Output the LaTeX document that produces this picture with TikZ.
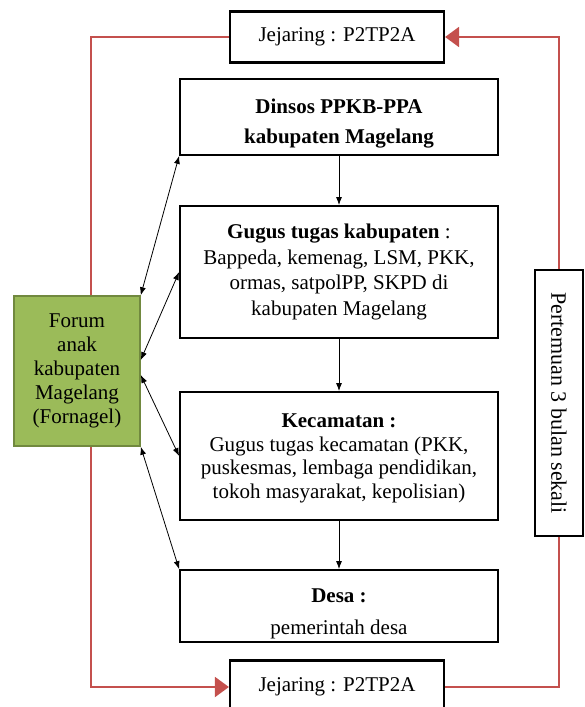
\documentclass[tikz,border=0pt]{standalone}
\usepackage{fontspec}
\setmainfont{Liberation Serif}
\usetikzlibrary{arrows.meta}
\definecolor{redc}{HTML}{C4504D}
\definecolor{greenfill}{HTML}{9BBB59}
\definecolor{greenline}{HTML}{71893F}
\tikzset{
  box/.style={draw=black, line width=1.8pt, fill=white, align=center, inner sep=2pt,
    font=\fontsize{21}{24}\selectfont},
  redline/.style={draw=redc, line width=2pt},
  redarr/.style={redline, -{Triangle[length=14pt,width=20pt]}},
  arr/.style={-{Latex[length=8pt,width=6pt]}, line width=0.8pt},
  darr/.style={{Latex[length=8pt,width=6pt]}-{Latex[length=8pt,width=6pt]}, line width=0.8pt},
}
\begin{document}
\begin{tikzpicture}[x=1pt,y=-1pt]
\clip (0,0) rectangle (585,707);
\fill[white] (0,0) rectangle (585,707);

\node[box, line width=2.2pt, minimum width=214pt, minimum height=51pt] (tj) at (337,37) {Jejaring : P2TP2A};
\node[box, line width=2.2pt, minimum width=214pt, minimum height=53pt] (bj) at (337,687) {Jejaring : P2TP2A};

\node[box, minimum width=318pt, minimum height=76pt, font=\fontsize{21}{30}\selectfont] (dinsos) at (339,117)
  {\rule{0pt}{27pt}\textbf{Dinsos PPKB-PPA}\\\textbf{kabupaten Magelang}};
\node[box, minimum width=318pt, minimum height=132pt, font=\fontsize{21}{25.5}\selectfont] (gugus) at (339,272)
  {\textbf{Gugus tugas kabupaten} :\\Bappeda, kemenag, LSM, PKK,\\ormas, satpolPP, SKPD di\\kabupaten Magelang};
\node[box, minimum width=318pt, minimum height=128pt, font=\fontsize{21}{23.5}\selectfont] (kec) at (339,456)
  {\rule{0pt}{19pt}\textbf{Kecamatan :}\\Gugus tugas kecamatan (PKK,\\puskesmas, lembaga pendidikan,\\tokoh masyarakat, kepolisian)};
\node[box, minimum width=318pt, minimum height=72pt, font=\fontsize{21}{32}\selectfont] (desa) at (339,606)
  {\rule{0pt}{29pt}\textbf{Desa :}\\pemerintah desa};

\node[box, draw=greenline, fill=greenfill, line width=1.5pt, minimum width=126pt, minimum height=150pt] (forum) at (77,371)
  {Forum\\anak\\kabupaten\\Magelang\\(Fornagel)};

\node[box, minimum width=48pt, minimum height=266pt, inner sep=0pt, font=\fontsize{22}{24}\selectfont] (side) at (559,403)
  {\rotatebox{-90}{Pertemuan 3 bulan sekali}};

% red loop
\draw[redline] ([xshift=14pt]forum.north) |- (tj.west);
\draw[redarr] ([xshift=14pt]forum.south) |- (bj.west);
\draw[redline] (bj.east) -| (side.south);
\draw[redarr] (side.north) |- (tj.east);

% vertical flow
\draw[arr] (dinsos) -- (gugus);
\draw[arr] (gugus) -- (kec);
\draw[arr] (kec) -- (desa);

% forum links
\draw[darr] (forum.north east) -- (dinsos.south west);
\draw[darr] ([yshift=11pt]forum.east) -- (gugus.west);
\draw[darr] ([yshift=-4pt]forum.east) -- (kec.west);
\draw[darr] (forum.south east) -- (desa.north west);
\end{tikzpicture}
\end{document}
